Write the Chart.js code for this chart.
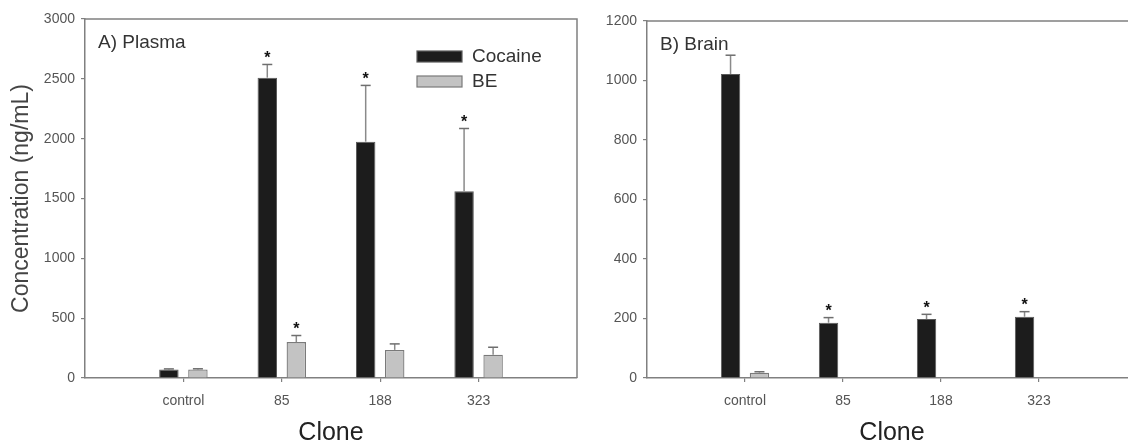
<!DOCTYPE html>
<html>
<head>
<meta charset="utf-8">
<script src="https://cdn.jsdelivr.net/npm/chart.js@4.4.1/dist/chart.umd.min.js"></script>
<style>
  html, body { margin: 0; padding: 0; background: #fff; width: 1128px; height: 445px; overflow: hidden; position: relative; }
  canvas { position: absolute; top: 0; }
  #cA { left: 0; }
  #cB { left: 580px; }
</style>
</head>
<body>
<canvas id="cA" width="580" height="445"></canvas>
<canvas id="cB" width="560" height="445"></canvas>
<script>
// ---- data ----
const categories = ['control', '85', '188', '323'];
const seriesNames = ['Cocaine', 'BE'];

const plasmaCocaine    = [70, 2510, 1975, 1560];
const plasmaCocaineErr = [6, 110, 470, 525];
const plasmaCocaineSig = [false, true, true, true];
const plasmaBE         = [72, 300, 235, 195];
const plasmaBEErr      = [5, 55, 50, 62];
const plasmaBESig      = [false, true, false, false];

const brainCocaine     = [1022, 186, 198, 206];
const brainCocaineErr  = [63, 17, 16, 17];
const brainCocaineSig  = [false, true, true, true];
const brainBE          = [18, null, null, null];
const brainBEErr       = [3, null, null, null];
const brainBESig       = [false, false, false, false];

const plasmaTicks = [0, 500, 1000, 1500, 2000, 2500, 3000];
const brainTicks  = [0, 200, 400, 600, 800, 1000, 1200];

// ---- helpers ----
const pad = a => [null, ...a, null];
const labels = ['', ...categories, ''];
const FONT = "'Liberation Sans', Arial, sans-serif";
const AXIS = '#808080';

const errorBars = {
  id: 'errorBars',
  afterDatasetsDraw(chart) {
    const ctx = chart.ctx, ys = chart.scales.y;
    chart.data.datasets.forEach((ds, di) => {
      const meta = chart.getDatasetMeta(di);
      meta.data.forEach((bar, i) => {
        const v = ds.data[i];
        if (v == null) return;
        const e = ds.errors[i] || 0;
        const yTop = ys.getPixelForValue(v);
        const yE = ys.getPixelForValue(v + e);
        ctx.save();
        if (e > 0) {
          ctx.strokeStyle = '#8a8a8a';
          ctx.lineWidth = 1.5;
          ctx.beginPath();
          ctx.moveTo(bar.x, yTop);
          ctx.lineTo(bar.x, yE);
          ctx.stroke();
          ctx.strokeStyle = '#6e6e6e';
          ctx.beginPath();
          ctx.moveTo(bar.x - 5, yE);
          ctx.lineTo(bar.x + 5, yE);
          ctx.stroke();
        }
        if (ds.sig[i]) {
          const fs = 16;
          ctx.fillStyle = '#111';
          ctx.font = 'bold ' + fs + 'px ' + FONT;
          ctx.textAlign = 'center';
          ctx.textBaseline = 'alphabetic';
          ctx.fillText('*', bar.x, yE - 10.5 + 0.58 * fs);
        }
        ctx.restore();
      });
    });
  }
};

const frame = {
  id: 'frame',
  afterDraw(chart, args, opts) {
    const ctx = chart.ctx, a = chart.chartArea;
    ctx.save();
    ctx.strokeStyle = AXIS;
    ctx.lineWidth = 1.5;
    ctx.beginPath();
    ctx.moveTo(a.left, a.top);
    ctx.lineTo(a.right, a.top);
    ctx.lineTo(a.right, a.bottom);
    ctx.stroke();
    // panel label
    ctx.fillStyle = '#333';
    ctx.font = '19px ' + FONT;
    ctx.textAlign = 'left';
    ctx.textBaseline = 'middle';
    ctx.fillText(opts.label, a.left + 13, a.top + 24);
    // legend
    if (opts.legend) {
      chart.data.datasets.forEach((ds, di) => {
        const bx = a.left + 332, by = a.top + 32 + di * 25;
        ctx.fillStyle = ds.backgroundColor;
        ctx.strokeStyle = ds.borderColor;
        ctx.lineWidth = 1.2;
        ctx.fillRect(bx, by, 45, 11);
        ctx.strokeRect(bx, by, 45, 11);
        ctx.fillStyle = '#333';
        ctx.font = '19px ' + FONT;
        ctx.fillText(ds.label, bx + 55, by + 6);
      });
    }
    ctx.restore();
  }
};

function makeChart(id, cfg) {
  return new Chart(document.getElementById(id), {
    type: 'bar',
    data: {
      labels: labels,
      datasets: [
        { label: seriesNames[0], data: pad(cfg.coc), errors: pad(cfg.cocErr), sig: pad(cfg.cocSig),
          backgroundColor: '#1c1c1c', borderColor: '#5a5a5a', borderWidth: 1 },
        { label: seriesNames[1], data: pad(cfg.be), errors: pad(cfg.beErr), sig: pad(cfg.beSig),
          backgroundColor: '#c3c3c3', borderColor: '#7a7a7a', borderWidth: 1.3 }
      ]
    },
    options: {
      responsive: false,
      animation: false,
      events: [],
      categoryPercentage: 0.59,
      barPercentage: 0.67,
      layout: { padding: { top: cfg.top, right: cfg.right, left: 0, bottom: 0 } },
      plugins: {
        legend: { display: false },
        tooltip: { enabled: false },
        frame: { label: cfg.label, legend: cfg.legend }
      },
      scales: {
        x: {
          type: 'category',
          offset: false,
          afterFit: s => { s.height = 67; s.paddingLeft = 0; s.paddingRight = 0; },
          border: { display: true, color: AXIS, width: 1.5 },
          grid: {
            offset: false,
            drawOnChartArea: false, drawTicks: true, tickLength: 4,
            color: c => (c.index === 0 || c.index === labels.length - 1) ? 'rgba(0,0,0,0)' : AXIS,
            lineWidth: 1.2
          },
          ticks: { autoSkip: false, maxRotation: 0, color: '#555', font: { family: FONT, size: 14 }, padding: 11 },
          title: { display: true, text: 'Clone', color: '#222', font: { family: FONT, size: 25, lineHeight: 1 }, padding: { top: 0, bottom: -1 } }
        },
        y: {
          min: 0, max: cfg.ticks[cfg.ticks.length - 1],
          afterFit: s => { s.width = cfg.yw; },
          afterBuildTicks: s => { s.ticks = cfg.ticks.map(v => ({ value: v })); },
          border: { display: true, color: AXIS, width: 1.5 },
          grid: { drawOnChartArea: false, drawTicks: true, tickLength: 4, color: AXIS, lineWidth: 1.2 },
          ticks: { color: '#555', font: { family: FONT, size: 14 }, padding: 6, callback: v => String(v) },
          title: { display: !!cfg.ytitle, text: cfg.ytitle || '', color: '#444', font: { family: FONT, size: 23, lineHeight: 1.2 }, padding: { top: 8, bottom: 0 } }
        }
      }
    },
    plugins: [errorBars, frame]
  });
}

makeChart('cA', {
  coc: plasmaCocaine, cocErr: plasmaCocaineErr, cocSig: plasmaCocaineSig,
  be: plasmaBE, beErr: plasmaBEErr, beSig: plasmaBESig,
  ticks: plasmaTicks, top: 19, right: 3, yw: 85,
  label: 'A) Plasma', legend: true, ytitle: 'Concentration (ng/mL)'
});
makeChart('cB', {
  coc: brainCocaine, cocErr: brainCocaineErr, cocSig: brainCocaineSig,
  be: brainBE, beErr: brainBEErr, beSig: brainBESig,
  ticks: brainTicks, top: 21, right: 3, yw: 67,
  label: 'B) Brain', legend: false, ytitle: ''
});
</script>
</body>
</html>
